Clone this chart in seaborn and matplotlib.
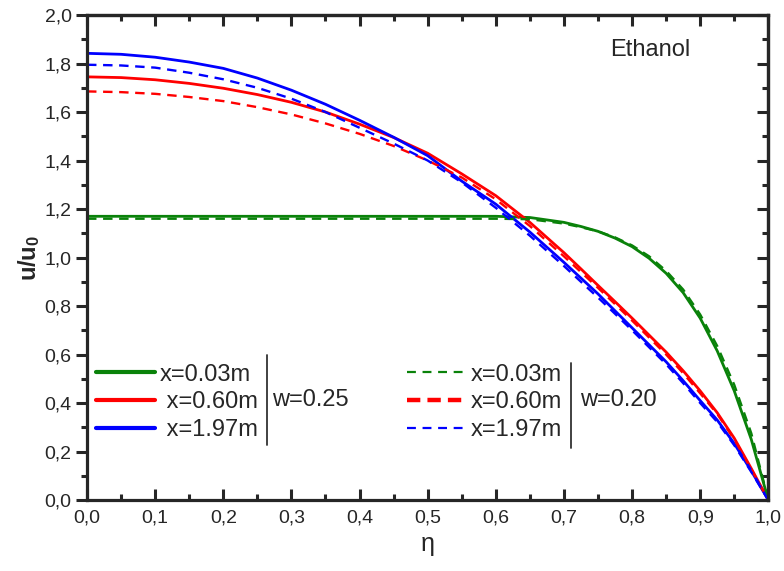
import numpy as np
import pandas as pd
import matplotlib
matplotlib.use("Agg")
import matplotlib.pyplot as plt
from matplotlib.lines import Line2D
from matplotlib.ticker import MultipleLocator, FuncFormatter
import seaborn as sns

# Dimensionless radial position
eta = [0.0, 0.05, 0.1, 0.15, 0.2, 0.25, 0.3, 0.35, 0.4, 0.45, 0.5, 0.55,
       0.6, 0.65, 0.7, 0.725, 0.75, 0.775, 0.8, 0.825, 0.85, 0.875,
       0.9, 0.925, 0.95, 0.975, 1.0]

# w = 0.25 (solid)
u_003_w25 = [1.17, 1.17, 1.17, 1.17, 1.17, 1.17, 1.17, 1.17, 1.17, 1.17, 1.17, 1.17,
             1.17, 1.165, 1.145, 1.128, 1.108, 1.08, 1.045, 0.997, 0.935, 0.855,
             0.75, 0.615, 0.45, 0.25, 0.0]
u_060_w25 = [1.745, 1.742, 1.733, 1.718, 1.698, 1.672, 1.64, 1.60, 1.55, 1.495, 1.43, 1.345,
             1.255, 1.145, 1.02, 0.953, 0.885, 0.818, 0.75, 0.68, 0.61, 0.533,
             0.45, 0.36, 0.255, 0.13, 0.0]
u_197_w25 = [1.842, 1.838, 1.826, 1.806, 1.78, 1.74, 1.69, 1.632, 1.566, 1.496, 1.42, 1.315,
             1.22, 1.105, 0.98, 0.915, 0.85, 0.78, 0.71, 0.64, 0.57, 0.492,
             0.41, 0.33, 0.233, 0.12, 0.0]

# w = 0.20 (dashed)
u_003_w20 = [1.16, 1.16, 1.16, 1.16, 1.16, 1.16, 1.16, 1.16, 1.16, 1.16, 1.16, 1.16,
             1.16, 1.158, 1.14, 1.125, 1.108, 1.083, 1.05, 1.005, 0.945, 0.868,
             0.765, 0.635, 0.475, 0.275, 0.0]
u_060_w20 = [1.685, 1.682, 1.675, 1.662, 1.645, 1.62, 1.59, 1.553, 1.51, 1.46, 1.40, 1.33,
             1.24, 1.13, 1.005, 0.94, 0.875, 0.808, 0.74, 0.67, 0.60, 0.523,
             0.44, 0.355, 0.25, 0.127, 0.0]
u_197_w20 = [1.795, 1.792, 1.783, 1.762, 1.735, 1.70, 1.655, 1.60, 1.535, 1.47, 1.40, 1.31,
             1.205, 1.09, 0.965, 0.90, 0.835, 0.768, 0.70, 0.63, 0.56, 0.482,
             0.40, 0.322, 0.226, 0.116, 0.0]

labels_w25 = ["x=0.03m", " x=0.60m", " x=1.97m"]
labels_w20 = ["x=0.03m", "x=0.60m", "x=1.97m"]
colors = ["#0a820a", "#ff0000", "#0000ff"]

sns.set_style("ticks")
plt.rcParams["font.family"] = ["Liberation Sans", "DejaVu Sans"]
plt.rcParams["mathtext.fontset"] = "custom"
plt.rcParams["mathtext.rm"] = "Liberation Sans"
plt.rcParams["mathtext.bf"] = "Liberation Sans:bold"

fig = plt.figure(figsize=(7.84, 5.71), dpi=100)
ax = fig.add_axes([0.111, 0.1243, 0.869, 0.8494])

solid = [u_003_w25, u_060_w25, u_197_w25]
dashed = [u_003_w20, u_060_w20, u_197_w20]
for vals, c in zip(solid, colors):
    sns.lineplot(x=eta, y=vals, ax=ax, color=c, lw=2.0, sort=False)
for vals, c in zip(dashed, colors):
    sns.lineplot(x=eta, y=vals, ax=ax, color=c, lw=1.7, sort=False,
                 linestyle=(0, (4, 2.8)))

ax.set_xlim(0, 1.0)
ax.set_ylim(0, 2.0)
ax.xaxis.set_major_locator(MultipleLocator(0.1))
ax.xaxis.set_minor_locator(MultipleLocator(0.05))
ax.yaxis.set_major_locator(MultipleLocator(0.2))
ax.yaxis.set_minor_locator(MultipleLocator(0.1))
comma = FuncFormatter(lambda v, p: f"{v:.1f}".replace(".", ","))
ax.xaxis.set_major_formatter(comma)
ax.yaxis.set_major_formatter(comma)

for s in ax.spines.values():
    s.set_linewidth(2.3)
ax.tick_params(axis="x", which="major", direction="in", length=8, width=2.2, labelsize=14, pad=7)
ax.tick_params(axis="x", which="minor", direction="in", length=4.5, width=2.2)
ax.tick_params(axis="y", which="major", direction="out", length=8, width=2.2, labelsize=14, pad=3)
ax.tick_params(axis="y", which="minor", direction="out", length=4.5, width=2.2)

top = ax.secondary_xaxis("top")
top.xaxis.set_major_locator(MultipleLocator(0.1))
top.xaxis.set_minor_locator(MultipleLocator(0.05))
top.tick_params(which="major", direction="in", length=8, width=2.2, labeltop=False)
top.tick_params(which="minor", direction="in", length=4.5, width=2.2)
top.spines["top"].set_linewidth(2.3)
right = ax.secondary_yaxis("right")
right.yaxis.set_major_locator(MultipleLocator(0.2))
right.yaxis.set_minor_locator(MultipleLocator(0.1))
right.tick_params(which="major", direction="in", length=8, width=2.2, labelright=False)
right.tick_params(which="minor", direction="in", length=4.5, width=2.2)
right.spines["right"].set_linewidth(2.3)

ax.set_xlabel("η", fontsize=18, labelpad=4)
ax.set_ylabel(r"$\mathbf{u/u_0}$", fontsize=17, labelpad=2)

ax.text(0.768, 0.928, "Ethanol", transform=ax.transAxes, fontsize=17, va="center")

# Legends for the two values of w
h_solid = [Line2D([], [], color=c, lw=3) for c in colors]
h_dash = [Line2D([], [], color=c, lw=(3.2 if i == 1 else 1.6),
                 linestyle=((0, (3, 1.6)) if i == 1 else (0, (4, 3))))
          for i, c in enumerate(colors)]
leg_kw = dict(frameon=False, fontsize=17, handlelength=2.5, handletextpad=0.21,
              labelspacing=0.24, borderaxespad=0, borderpad=0)
leg1 = ax.legend(h_solid, labels_w25, loc="upper left", bbox_to_anchor=(0.013, 0.281), **leg_kw)
ax.add_artist(leg1)
ax.legend(h_dash, labels_w20, loc="upper left", bbox_to_anchor=(0.47, 0.281), **leg_kw)

ax.plot([0.2643, 0.2643], [0.113, 0.299], transform=ax.transAxes, color="#333333", lw=1.3, clip_on=False)
ax.text(0.2717, 0.206, "w=0.25", transform=ax.transAxes, fontsize=17, va="center")
ax.plot([0.7107, 0.7107], [0.107, 0.282], transform=ax.transAxes, color="#333333", lw=1.3, clip_on=False)
ax.text(0.724, 0.206, "w=0.20", transform=ax.transAxes, fontsize=17, va="center")

fig.savefig("out.png", dpi=100)
